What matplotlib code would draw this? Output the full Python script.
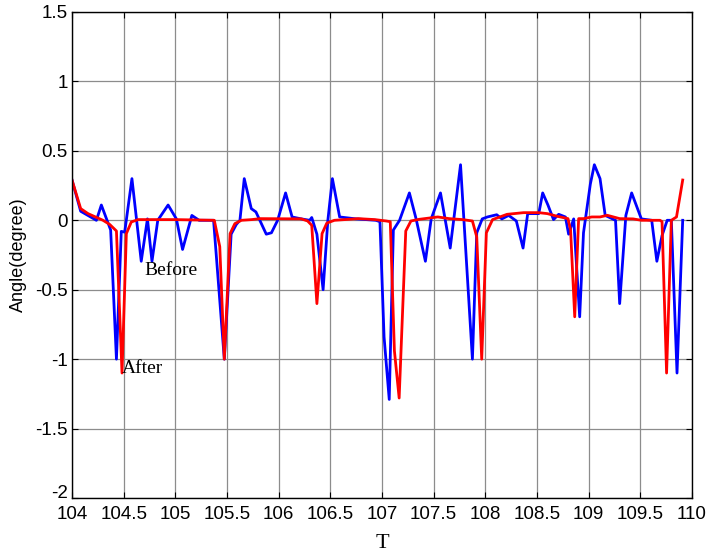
import matplotlib
matplotlib.use('Agg')
import matplotlib.pyplot as plt
import matplotlib.transforms as mtransforms
import numpy as np

# before (blue)
t_before = [104.0, 104.084, 104.236, 104.284, 104.374, 104.43, 104.477, 104.51, 104.58,
            104.67, 104.73, 104.774, 104.83, 104.93, 105.01, 105.07, 105.16, 105.23, 105.37,
            105.474, 105.54, 105.59, 105.625, 105.667, 105.735, 105.78, 105.88, 105.93, 105.99,
            106.067, 106.13, 106.22, 106.3, 106.32, 106.37, 106.43, 106.476, 106.52, 106.59,
            106.75, 106.94, 106.98, 107.02, 107.07, 107.11, 107.17, 107.265, 107.33, 107.42,
            107.476, 107.566, 107.66, 107.76, 107.875, 107.917, 107.97, 108.02, 108.11, 108.16,
            108.226, 108.30, 108.365, 108.41, 108.517, 108.555, 108.607, 108.66, 108.71, 108.775,
            108.806, 108.855, 108.913, 108.95, 109.016, 109.055, 109.11, 109.16, 109.26, 109.30,
            109.36, 109.416, 109.51, 109.61, 109.66, 109.71, 109.76, 109.80, 109.855, 109.91]
angle_before = [0.29, 0.065, 0.0, 0.11, -0.07, -1.0, -0.08, -0.085, 0.30,
                -0.295, 0.01, -0.295, 0.0, 0.11, 0.01, -0.21, 0.035, 0.0, 0.0,
                -1.0, -0.1, -0.03, 0.0, 0.30, 0.084, 0.06, -0.1, -0.09, 0.0,
                0.197, 0.024, 0.01, 0.0, 0.02, -0.1, -0.5, 0.0, 0.30, 0.024,
                0.01, 0.0, -0.01, -0.84, -1.29, -0.07, 0.0, 0.197, 0.01, -0.295,
                0.01, 0.197, -0.2, 0.4, -1.0, -0.09, 0.01, 0.024, 0.04, 0.01,
                0.035, -0.005, -0.2, 0.048, 0.048, 0.197, 0.108, 0.005, 0.043, 0.024,
                -0.1, 0.01, -0.695, -0.09, 0.26, 0.40, 0.30, 0.035, 0.0, -0.60,
                0.035, 0.197, 0.01, 0.0, -0.295, -0.11, 0.0, 0.0, -1.1, 0.0]

# after (red)
t_after = [104.0, 104.084, 104.155, 104.30, 104.365, 104.43, 104.484, 104.526, 104.574,
           104.64, 105.0, 105.377, 105.43, 105.474, 105.53, 105.576, 105.64, 105.74, 105.82,
           106.22, 106.28, 106.32, 106.37, 106.42, 106.466, 106.54, 106.64, 106.77, 106.93,
           107.04, 107.08, 107.12, 107.166, 107.23, 107.28, 107.36, 107.54, 107.65, 107.78,
           107.875, 107.917, 107.965, 108.01, 108.07, 108.21, 108.37, 108.517, 108.60, 108.695,
           108.80, 108.825, 108.865, 108.903, 108.95, 109.03, 109.11, 109.18, 109.30, 109.43,
           109.51, 109.69, 109.71, 109.754, 109.80, 109.85, 109.91]
angle_after = [0.29, 0.084, 0.048, 0.0, -0.03, -0.077, -1.10, -0.096, -0.012,
               0.005, 0.005, 0.0, -0.19, -1.0, -0.096, -0.024, 0.0, 0.005, 0.012,
               0.01, -0.005, -0.036, -0.60, -0.096, -0.02, 0.0, 0.005, 0.012, 0.005,
               -0.005, -0.01, -0.94, -1.28, -0.077, -0.005, 0.007, 0.024, 0.012, 0.005,
               -0.005, -0.12, -1.0, -0.09, 0.005, 0.043, 0.055, 0.055, 0.048, 0.029,
               0.012, -0.07, -0.695, 0.012, 0.012, 0.024, 0.024, 0.036, 0.012, 0.01,
               0.0, 0.0, -0.01, -1.1, 0.0, 0.024, 0.29]

xticks = [104, 104.5, 105, 105.5, 106, 106.5, 107, 107.5, 108, 108.5, 109, 109.5, 110]
xtick_labels = ['104', '104.5', '105', '105.5', '106', '106.5', '107', '107.5',
                '108', '108.5', '109', '109.5', '110']
yticks = [-2, -1.5, -1, -0.5, 0, 0.5, 1, 1.5]
ytick_labels = ['-2', '-1.5', '-1', '-0.5', '0', '0.5', '1', '1.5']

plt.rcParams['font.family'] = ['Liberation Sans', 'DejaVu Sans']

fig = plt.figure(figsize=(7.08, 5.58), dpi=100)
ax = fig.add_axes([0.1017, 0.1075, 0.8757, 0.871])

ax.plot(t_before, angle_before, color='#0000ff', linewidth=2.0)
ax.plot(t_after, angle_after, color='#ff0000', linewidth=2.0)

ax.set_xlim(104, 110)
ax.set_ylim(-2, 1.5)
ax.set_xticks(xticks)
ax.set_xticklabels(xtick_labels)
ax.set_yticks(yticks)
ax.set_yticklabels(ytick_labels)
ax.grid(True, color='#8c8c8c', linewidth=0.9)
ax.set_axisbelow(True)
ax.tick_params(direction='in', length=4, top=True, right=True, labelsize=13.5,
               width=0.8)
ax.tick_params(axis='x', pad=6)
ax.tick_params(axis='y', pad=3)
for s in ax.spines.values():
    s.set_linewidth(1.0)

# matlab puts the lowest y label a bit higher
lab = ax.get_yticklabels()[0]
lab.set_transform(lab.get_transform() + mtransforms.ScaledTranslation(0, 5/72, fig.dpi_scale_trans))

ax.text(104.70, -0.36, 'Before', family='Liberation Serif', fontsize=14, va='center')
ax.text(104.48, -1.065, 'After', family='Liberation Serif', fontsize=14, va='center')

ax.set_xlabel('T', family='Liberation Serif', fontsize=16, labelpad=8)
ax.set_ylabel('Angle(degree)', fontsize=13, labelpad=6)

fig.savefig('out.png', dpi=100)
